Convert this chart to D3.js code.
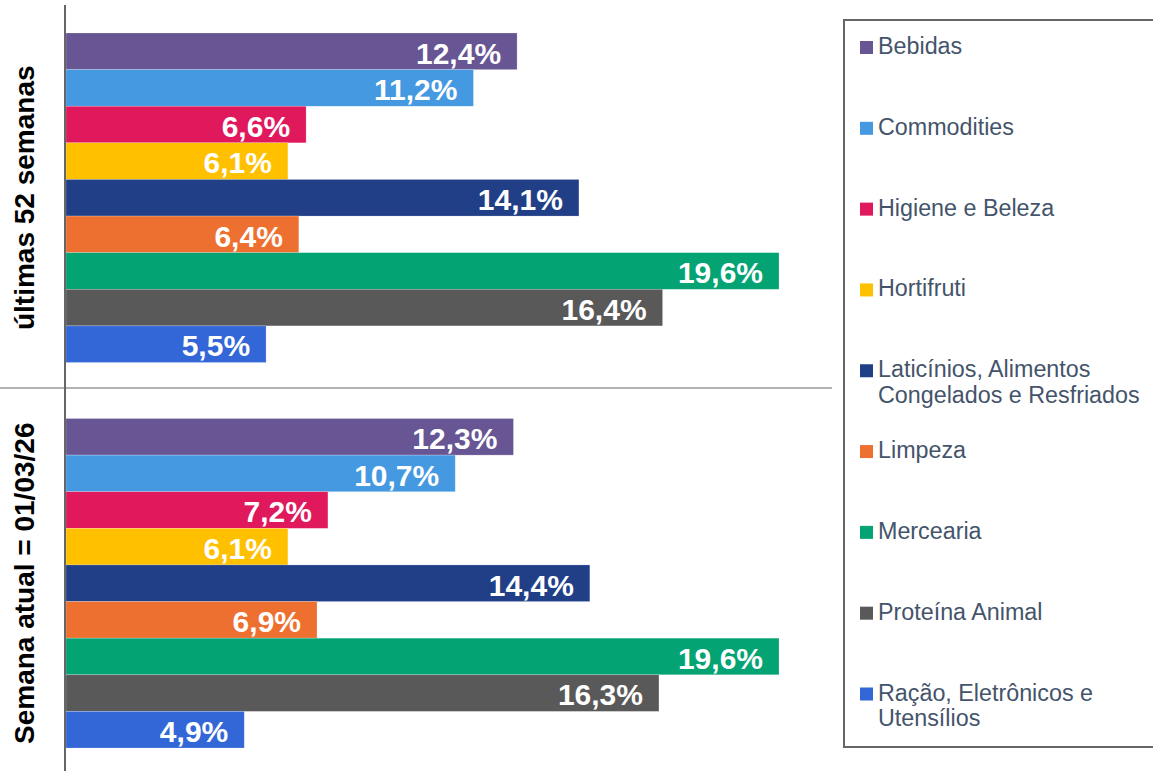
<!DOCTYPE html>
<html>
<head>
<meta charset="utf-8">
<script src="https://cdn.jsdelivr.net/npm/d3@7"></script>
<style>
  html, body { margin: 0; padding: 0; background: #fff; }
  #chart { width: 1153px; height: 771px; }
</style>
</head>
<body>
<div id="chart"></div>
<script>
// Categories (legend order == bar order, top to bottom)
const categories = [
    "Bebidas",
    "Commodities",
    "Higiene e Beleza",
    "Hortifruti",
    "Laticínios, Alimentos\nCongelados e Resfriados",
    "Limpeza",
    "Mercearia",
    "Proteína Animal",
    "Ração, Eletrônicos e\nUtensílios"
];

const groups = ["últimas 52 semanas", "Semana atual = 01/03/26"];

// Share (%) per category
const last52Weeks = [12.4, 11.2, 6.6, 6.1, 14.1, 6.4, 19.6, 16.4, 5.5];
const currentWeek = [12.3, 10.7, 7.2, 6.1, 14.4, 6.9, 19.6, 16.3, 4.9];

const colors = ["#675594", "#4499e0", "#e0185c", "#ffc000", "#213f87", "#ee7030", "#04a374", "#595959", "#3366d6"];

class ShareBars {
    constructor(containerId) {
        this.containerId = containerId;
        this.width = 1153;
        this.height = 771;
        this.init();
    }

    init() {
        const container = d3.select(`#${this.containerId}`);
        this.svg = container.append("svg")
            .attr("width", this.width)
            .attr("height", this.height)
            .style("font-family", "'Liberation Sans', Arial, sans-serif");

        const series = [last52Weeks, currentWeek];

        // Scales
        const x = d3.scaleLinear().domain([0, 19.6]).range([66, 779]);
        const yGroup = d3.scaleBand().domain(groups).range([5, 776]);
        const yInner = d3.scaleBand()
            .domain(d3.range(categories.length))
            .range([28, 357.5]);

        // Bars + labels
        groups.forEach((g, gi) => {
            const gg = this.svg.append("g")
                .attr("transform", `translate(0,${yGroup(g)})`);

            const rows = series[gi].map((v, i) => ({ v, i }));

            gg.selectAll("rect")
                .data(rows)
                .join("rect")
                .attr("x", x(0))
                .attr("y", d => yInner(d.i))
                .attr("width", d => x(d.v) - x(0))
                .attr("height", yInner.bandwidth())
                .attr("fill", d => colors[d.i])
                .attr("stroke", "rgba(255,255,255,0.35)")
                .attr("stroke-width", 0.6);

            gg.selectAll("text.val")
                .data(rows)
                .join("text")
                .attr("class", "val")
                .attr("x", d => x(d.v) - 16)
                .attr("y", d => yInner(d.i) + yInner.bandwidth() / 2 + 1.5)
                .attr("dy", "0.36em")
                .attr("text-anchor", "end")
                .attr("fill", "#fff")
                .style("font-size", "30px")
                .style("font-weight", "bold")
                .text(d => d3.format(".1f")(d.v).replace(".", ",") + "%");

            // Rotated group label
            const cy = yGroup(g) + yGroup.bandwidth() / 2;
            this.svg.append("text")
                .attr("transform", `translate(34,${cy}) rotate(-90)`)
                .attr("text-anchor", "middle")
                .attr("fill", "#000")
                .style("font-size", "28px")
                .style("font-weight", "bold")
                .text(g);
        });

        // Group separator
        this.svg.append("line")
            .attr("x1", 0).attr("x2", 832)
            .attr("y1", 388).attr("y2", 388)
            .attr("stroke", "#999")
            .attr("stroke-width", 1.5);

        // Vertical axis line
        this.svg.append("line")
            .attr("x1", 65).attr("x2", 65)
            .attr("y1", 5).attr("y2", 771)
            .attr("stroke", "#666")
            .attr("stroke-width", 2);

        // Legend
        const lg = this.svg.append("g");
        lg.append("rect")
            .attr("x", 844).attr("y", 20)
            .attr("width", 320).attr("height", 727)
            .attr("fill", "none")
            .attr("stroke", "#666")
            .attr("stroke-width", 2);

        const ly = d3.scaleLinear().domain([0, categories.length - 1]).range([47.5, 694]);

        categories.forEach((c, i) => {
            const cy = ly(i);
            lg.append("rect")
                .attr("x", 860).attr("y", cy - 6.5)
                .attr("width", 13).attr("height", 13)
                .attr("fill", colors[i]);

            const t = lg.append("text")
                .attr("x", 878)
                .attr("y", cy + 6.5)
                .attr("fill", "#44546a")
                .style("font-size", "23.3px");
            c.split("\n").forEach((line, li) => {
                t.append("tspan")
                    .attr("x", 878)
                    .attr("dy", li === 0 ? 0 : 25.5)
                    .text(line);
            });
        });
    }
}

new ShareBars("chart");
</script>
</body>
</html>
